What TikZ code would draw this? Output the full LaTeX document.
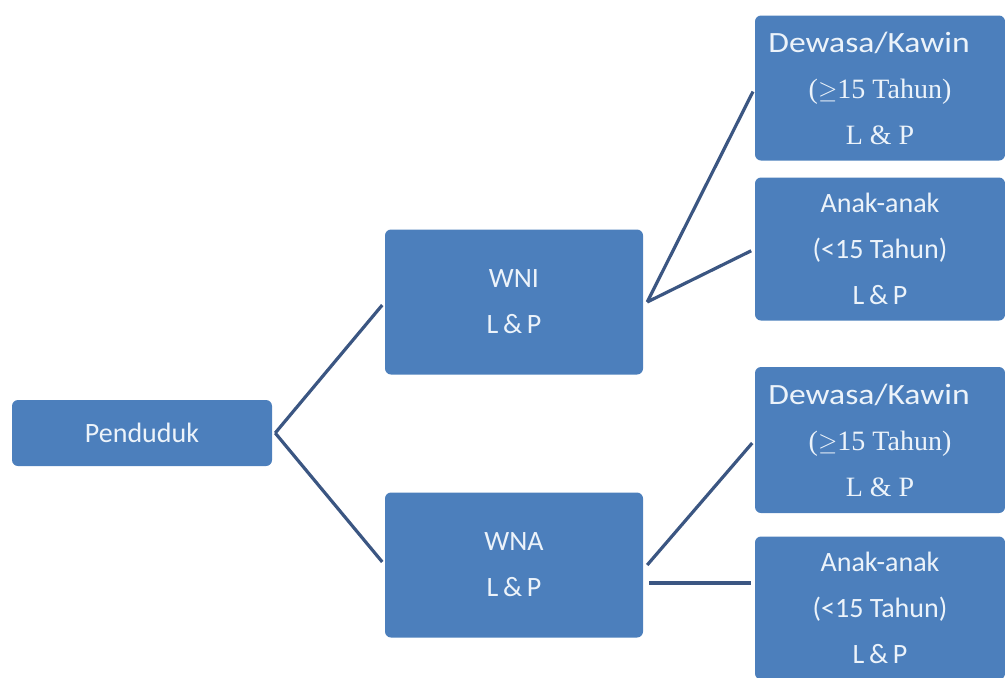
\documentclass[tikz,border=0pt]{standalone}
\usepackage{graphicx}
\usepackage{fontspec}
\setmainfont{Carlito}
\newfontfamily\timesfont{Liberation Serif}
\definecolor{boxblue}{RGB}{76,127,188}
\definecolor{linkblue}{RGB}{59,86,130}
\definecolor{boxtext}{RGB}{236,243,250}

\begin{document}
\begin{tikzpicture}[x=1pt, y=-1pt,
    box/.style={fill=boxblue, rounded corners=6pt, text=boxtext, align=center, inner sep=0pt, font=\fontsize{28}{46}\selectfont},
    link/.style={draw=linkblue, line width=3.2pt, shorten >=4pt}]
    \useasboundingbox (0,0) rectangle (1005,678);

    %Nodes
    \node[box, minimum width=260pt, minimum height=66pt] at (142,433) (pend) {Penduduk};
    \node[box, minimum width=258pt, minimum height=145pt] at (514,302) (wni) {WNI\\L\,\&\,P};
    \node[box, minimum width=258pt, minimum height=145pt] at (514,565) (wna) {WNA\\L\,\&\,P};
    \node[box, minimum width=250pt, minimum height=145pt] at (880,88) (dws1) {\scalebox{1.2}[1.05]{Dewasa/Kawin}\hspace*{22pt}\\{\timesfont($\geq$15 Tahun)}\\{\timesfont L \& P}};
    \node[box, minimum width=250pt, minimum height=143pt] at (880,249) (anak1) {Anak-anak\\(<15 Tahun)\\L\,\&\,P};
    \node[box, minimum width=250pt, minimum height=146pt] at (880,440) (dws2) {\scalebox{1.2}[1.05]{Dewasa/Kawin}\hspace*{22pt}\\{\timesfont($\geq$15 Tahun)}\\{\timesfont L \& P}};
    \node[box, minimum width=250pt, minimum height=143pt] at (880,608) (anak2) {Anak-anak\\(<15 Tahun)\\L\,\&\,P};

    %Lines
    \draw[link] ([xshift=3pt]pend.east) -- (wni.west);
    \draw[link] ([xshift=3pt]pend.east) -- (wna.west);
    \draw[link] ([xshift=4pt]wni.east) -- (dws1.west);
    \draw[link] ([xshift=4pt]wni.east) -- (anak1.west);
    \draw[link] ([xshift=4pt]wna.east) -- (dws2.west);
    \draw[link] ([shift={(6pt,-18pt)}]wna.east) -- ([yshift=-18pt]wna.east -| anak2.west);
\end{tikzpicture}
\end{document}
